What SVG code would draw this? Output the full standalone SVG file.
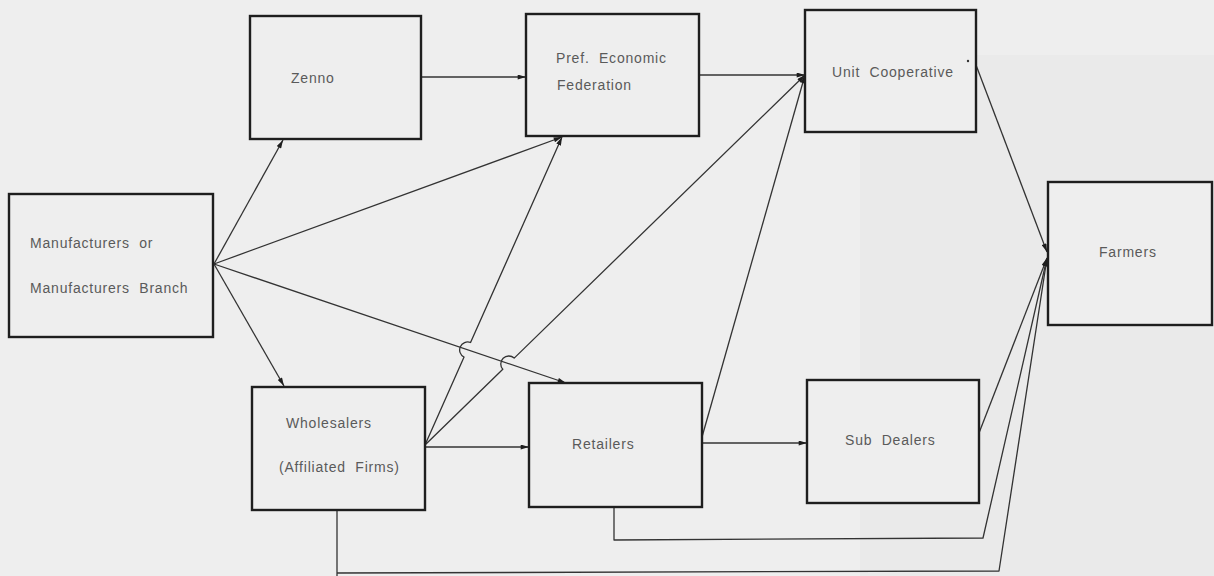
<svg xmlns="http://www.w3.org/2000/svg" width="1214" height="576" viewBox="0 0 1214 576">
  <style>
    .box { fill: #eeeeee; stroke: #1e1e1e; stroke-width: 2.4; }
    .lbl { font-family: "Liberation Sans", Arial, sans-serif; font-size: 14px; letter-spacing: 0.8px; fill: #5a5a5a; white-space: pre; }
    .conn { fill: none; stroke: #333333; stroke-width: 1.3; stroke-linejoin: round; }
    .arr { marker-end: url(#head); }
  </style>
  <defs>
    <marker id="head" viewBox="0 0 10 6" refX="10" refY="3" markerWidth="9" markerHeight="5" markerUnits="userSpaceOnUse" orient="auto">
      <path d="M0,0 L10,3 L0,6 Z" fill="#1e1e1e"/>
    </marker>
  </defs>

  <!-- paper -->
  <rect x="0" y="0" width="1214" height="576" fill="#eeeeee"/>
  <rect x="860" y="55" width="354" height="521" fill="#eaeaea"/>

  <!-- connectors -->
  <g id="connectors">
    <path class="conn arr" d="M421,77 L526,77"/>
    <path class="conn arr" d="M699,75 L805,75"/>
    <path class="conn arr" d="M214,264 L283,140"/>
    <path class="conn arr" d="M214,264 L562,137"/>
    <path class="conn arr" d="M214,264 L566,383"/>
    <path class="conn arr" d="M214,264 L284,386"/>
    <path class="conn arr" d="M425,445 L464.05,357.1 A8,8 0 0 1 470.55,342.5 L562,137"/>
    <path class="conn arr" d="M425,445 L502.8,369.3 A8,8 0 0 1 514.2,358.1 L805,75"/>
    <path class="conn arr" d="M425,447 L529,447"/>
    <path class="conn arr" d="M702,437 L805,75"/>
    <path class="conn arr" d="M702,443 L807,443"/>
    <path class="conn arr" d="M976,65 L1047,252"/>
    <path class="conn arr" d="M979,433 L1047,258"/>
    <path class="conn arr" d="M614,507 L614,540 L983,538 L1047,258"/>
    <path class="conn arr" d="M337,510 L337,576 M337,573 L999,571 L1047,258"/>
  </g>

  <!-- nodes -->
  <g id="manufacturers">
    <rect class="box" x="9" y="194" width="204" height="143"/>
    <text class="lbl" x="30" y="248">Manufacturers  or</text>
    <text class="lbl" x="30" y="293">Manufacturers  Branch</text>
  </g>
  <g id="zenno">
    <rect class="box" x="250" y="16" width="171" height="123"/>
    <text class="lbl" x="291" y="83">Zenno</text>
  </g>
  <g id="pref-economic-federation">
    <rect class="box" x="526" y="14" width="173" height="122"/>
    <text class="lbl" x="556" y="63">Pref.  Economic</text>
    <text class="lbl" x="557" y="90">Federation</text>
  </g>
  <g id="unit-cooperative">
    <rect class="box" x="805" y="10" width="171" height="122"/>
    <text class="lbl" x="832" y="77">Unit  Cooperative</text>
    <circle cx="968" cy="61" r="1.2" fill="#333333"/>
  </g>
  <g id="farmers">
    <rect class="box" x="1048" y="182" width="164" height="143"/>
    <text class="lbl" x="1099" y="257">Farmers</text>
  </g>
  <g id="wholesalers">
    <rect class="box" x="252" y="387" width="173" height="123"/>
    <text class="lbl" x="286" y="428">Wholesalers</text>
    <text class="lbl" x="279" y="472">(Affiliated  Firms)</text>
  </g>
  <g id="retailers">
    <rect class="box" x="529" y="383" width="173" height="124"/>
    <text class="lbl" x="572" y="449">Retailers</text>
  </g>
  <g id="sub-dealers">
    <rect class="box" x="807" y="380" width="172" height="123"/>
    <text class="lbl" x="845" y="445">Sub  Dealers</text>
  </g>
</svg>
